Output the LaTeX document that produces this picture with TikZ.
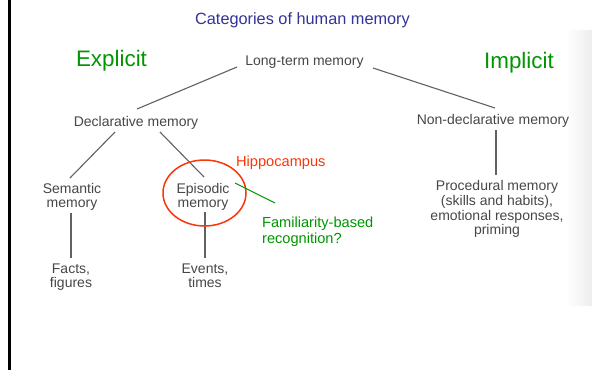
\documentclass[tikz,border=0pt]{standalone}
\usepackage{fontspec}
\setmainfont{Liberation Sans}
\usetikzlibrary{calc}
\definecolor{ttlblue}{RGB}{51,51,153}
\definecolor{lblgreen}{RGB}{0,150,0}
\definecolor{lblred}{RGB}{250,55,10}
\begin{document}
\begin{tikzpicture}[x=1pt,y=-1pt,
  gtext/.style={font=\fontsize{14}{14.8}\selectfont, text=black!72, inner sep=0pt, align=center, anchor=base},
  conn/.style={draw=black!62, line width=1.1pt},
  bigg/.style={font=\fontsize{22.4}{26}\selectfont, text=lblgreen, inner sep=0pt, anchor=base},
  note/.style={font=\fontsize{14.6}{16.5}\selectfont, inner sep=0pt, align=left, anchor=base west}]
\useasboundingbox (0,0) rectangle (592,370);
\fill[white] (0,0) rectangle (592,370);
\shade[left color=white, right color=black!7] (566,30) rectangle (592,305);
\fill[black] (7.5,0) rectangle (10.5,370);

\node[font=\fontsize{16.3}{18}\selectfont, text=ttlblue, inner sep=0pt, anchor=base] (title) at (302.5,24) {Categories of human memory};
\node[bigg] (expl) at (111.5,66) {Explicit};
\node[bigg] (impl) at (519,68) {Implicit};

% multi-line nodes: base anchor = baseline of the last line
\node[gtext] (ltm) at (304.5,65) {Long-term memory};
\node[gtext] (decl) at (136,126.5) {Declarative memory};
\node[gtext] (nondecl) at (493,124) {Non-declarative memory};
\node[gtext] (sem) at (72,207.8) {Semantic\\memory};
\node[gtext] (epi) at (203,207.8) {Episodic\\memory};
\node[gtext] (facts) at (71,287.8) {Facts,\\figures};
\node[gtext] (events) at (205,287.8) {Events,\\times};
\node[gtext] (proc) at (497,234.9) {Procedural memory\\(skills and habits),\\emotional responses,\\priming};

\node[note, text=lblred] (hipp) at (236,166.7) {Hippocampus};
\node[note, text=lblgreen] (fam) at (262,243.5) {Familiarity-based\\recognition?};

\draw[conn] ($(ltm.base)+(-67.5,2)$) -- ($(decl.base)+(1,-17.5)$);
\draw[conn] ($(ltm.base)+(68.5,3)$) -- ($(nondecl.base)+(2,-16)$);
\draw[conn] ($(decl.base)+(-21,5.5)$) -- ($(sem.base)+(-2,-29.8)$);
\draw[conn] ($(decl.base)+(24,5.5)$) -- ($(epi.base)+(1,-30.8)$);
\draw[conn] ($(sem.base)+(-1,5.2)$) -- ($(facts.base)+(0,-29.8)$);
\draw[conn] ($(epi.base)+(2,4.2)$) -- ($(events.base)+(0,-29.8)$);
\draw[conn] ($(nondecl.base)+(3,6)$) -- ($(proc.base)+(-1,-59.9)$);

\draw[lblred, line width=1.5pt] ($(epi.base)+(1.5,-14.8)$) ellipse [x radius=41.5, y radius=33];
\draw[lblgreen, line width=0.9pt] ($(epi.base)+(32,-24.8)$) -- ($(fam.base west)+(13,-40.5)$);
\end{tikzpicture}
\end{document}
